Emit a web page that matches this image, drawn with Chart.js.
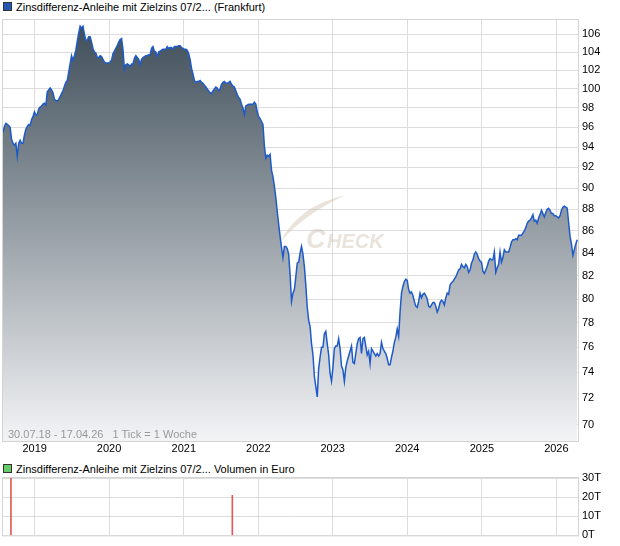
<!DOCTYPE html>
<html>
<head>
<meta charset="utf-8">
<script src="https://cdn.jsdelivr.net/npm/chart.js@4.4.1/dist/chart.umd.min.js"></script>
<style>
  body { margin: 0; width: 620px; height: 546px; background: #fff; position: relative; overflow: hidden;
         font-family: "Liberation Sans", Arial, sans-serif; }
  .box { position: absolute; left: 0; width: 620px; }
  .legend { position: absolute; left: 3px; font-size: 11px; line-height: 12px; color: #000; white-space: nowrap; }
  .legend i { display: inline-block; width: 7px; height: 7px; border: 1px solid #333; margin-right: 4px; }
  #footer { position: absolute; left: 8px; top: 428px; font-size: 11px; color: #999; white-space: pre; }
</style>
</head>
<body>
<div class="legend" style="top:1px"><i style="background:#2456b4"></i>Zinsdifferenz-Anleihe mit Zielzins 07/2... (Frankfurt)</div>
<div class="box" style="top:0;height:455px"><canvas id="main"></canvas></div>
<div id="footer">30.07.18 - 17.04.26   1 Tick = 1 Woche</div>
<div class="legend" style="top:463px"><i style="background:#6c6"></i>Zinsdifferenz-Anleihe mit Zielzins 07/2... Volumen in Euro</div>
<div class="box" style="top:455px;height:91px"><canvas id="vol"></canvas></div>
<script>
// weekly closing price, first week 30.07.18
const startDate = "2018-07-30";
const endDate = "2026-04-17";
const stepDays = 7;
const prices = [
  95.5, 96.1, 96.4, 96.3, 96.2, 96.0, 94.8, 94.4, 94.2, 94.4,
  93.1, 94.4, 94.7, 94.4, 94.4, 95.2, 95.8, 96.1, 96.3, 96.2,
  96.8, 97.1, 97.6, 97.3, 97.3, 97.9, 98.1, 98.2, 98.4, 98.5,
  98.3, 99.7, 99.9, 100.1, 99.9, 99.6, 98.9, 98.8, 98.7, 98.9,
  99.2, 99.5, 99.8, 100.3, 100.7, 100.9, 101.8, 102.7, 103.6, 103.1,
  103.6, 104.2, 105.2, 106.1, 106.9, 106.7, 106.9, 106.0, 105.3, 105.3,
  105.7, 105.7, 105.1, 104.4, 104.0, 103.9, 103.4, 103.4, 103.6, 103.5,
  103.2, 102.9, 102.8, 102.8, 102.8, 102.9, 103.1, 103.8, 104.1, 104.4,
  104.7, 105.1, 105.4, 105.5, 104.3, 102.1, 102.6, 102.7, 102.6, 102.4,
  102.7, 102.7, 103.3, 103.6, 103.4, 103.2, 102.6, 103.2, 103.4, 103.5,
  103.6, 103.6, 103.7, 103.7, 104.4, 104.6, 104.1, 104.0, 103.5, 104.0,
  104.1, 104.2, 104.3, 104.3, 104.3, 104.6, 104.4, 104.5, 104.5, 104.3,
  104.6, 104.6, 104.6, 104.7, 104.7, 104.5, 104.4, 104.3, 104.3, 104.2,
  103.8, 103.2, 102.2, 101.6, 100.9, 100.7, 100.8, 100.8, 100.9, 100.7,
  100.6, 100.4, 100.2, 100.0, 99.8, 99.6, 99.5, 99.8, 100.0, 100.2,
  100.1, 99.8, 100.0, 100.5, 100.7, 100.8, 100.6, 100.6, 100.7, 100.8,
  100.5, 100.3, 100.2, 99.8, 99.4, 99.1, 98.9, 98.4, 98.0, 97.3,
  98.2, 98.3, 98.4, 98.4, 98.4, 98.4, 98.6, 98.4, 97.6, 97.1,
  96.9, 96.6, 96.3, 94.1, 92.9, 93.2, 93.1, 93.3, 91.7, 91.1,
  90.2, 89.1, 87.8, 86.6, 85.5, 84.5, 83.6, 84.6, 84.6, 84.4,
  83.9, 82.1, 79.8, 80.5, 80.8, 81.9, 83.1, 83.2, 84.0, 84.6,
  83.9, 82.8, 81.2, 79.3, 78.2, 77.7, 76.3, 75.4, 73.7, 72.9,
  72.1, 74.3, 75.2, 76.0, 76.0, 77.1, 77.3, 76.3, 75.4, 73.9,
  73.3, 74.4, 75.9, 76.1, 76.1, 76.7, 75.9, 74.5, 74.2, 73.3,
  74.4, 74.9, 75.3, 75.7, 76.1, 74.8, 74.7, 75.5, 76.3, 76.7,
  76.8, 75.5, 76.7, 76.8, 76.1, 75.4, 75.7, 74.7, 75.9, 75.7,
  75.5, 75.3, 75.5, 75.3, 75.5, 76.4, 75.9, 75.7, 75.5, 75.1,
  74.6, 74.6, 75.2, 75.7, 76.4, 76.8, 77.5, 76.9, 78.9, 80.5,
  81.1, 81.5, 81.7, 81.6, 80.8, 80.5, 80.6, 80.3, 79.8, 79.4,
  79.3, 79.8, 80.5, 80.1, 80.4, 80.5, 80.3, 80.0, 79.4, 79.3,
  79.5, 79.7, 79.7, 79.4, 78.9, 79.2, 79.7, 79.9, 79.8, 79.5,
  80.1, 80.5, 80.4, 81.2, 81.4, 81.5, 81.7, 81.9, 82.2, 82.5,
  82.6, 83.0, 82.8, 82.7, 83.0, 82.8, 82.3, 82.5, 83.1, 83.4,
  83.9, 84.1, 83.9, 83.5, 83.3, 83.2, 82.4, 82.2, 82.5, 82.8,
  83.3, 83.5, 83.4, 83.4, 84.1, 82.3, 82.7, 83.0, 84.1, 83.2,
  83.6, 84.3, 84.1, 84.1, 84.1, 84.5, 85.0, 85.2, 85.2, 85.3,
  85.2, 85.6, 85.6, 85.6, 85.8, 86.0, 86.3, 86.7, 86.9, 87.0,
  87.2, 87.5, 86.9, 87.0, 86.7, 87.2, 87.5, 87.9, 87.6, 87.3,
  87.7, 88.0, 88.1, 87.9, 87.6, 87.6, 87.4, 87.4, 87.3, 87.2,
  87.4, 87.9, 88.2, 88.3, 88.2, 88.1, 86.8, 85.5, 84.8, 83.8,
  84.3, 84.8, 85.2
];
const volumeDates = ["2018-09-07", "2021-08-27"];
const volumeValues = [32000, 21000];

const yearLabels = ["2019", "2020", "2021", "2022", "2023", "2024", "2025", "2026"];
const priceTicks = [70, 72, 74, 76, 78, 80, 82, 84, 86, 88, 90, 92, 94, 96, 98, 100, 102, 104, 106];
const volumeTicks = [0, 10000, 20000, 30000];

const DAY = 86400000;
const t0 = Date.parse(startDate);
const dayOf = (s) => (Date.parse(s) - t0) / DAY;
const xMax = dayOf(endDate);
const yearTicks = yearLabels.map((y) => dayOf(y + "-01-01"));

const gridColor = "#dddddd";
const tickFont = { family: "'Liberation Sans', Arial, sans-serif", size: 11 };

const frame = {
  id: "frame",
  afterDatasetsDraw(chart) {
    const { ctx, chartArea: a } = chart;
    ctx.save();
    ctx.strokeStyle = "#d4d4d4";
    ctx.lineWidth = 1;
    ctx.strokeRect(a.left - 0.5, a.top - 0.5, a.right - a.left + 1, a.bottom - a.top + 1);
    ctx.restore();
  },
};

const watermark = {
  id: "watermark",
  afterDatasetsDraw(chart) {
    const ctx = chart.ctx;
    ctx.save();
    ctx.fillStyle = "rgba(200,185,165,0.4)";
    ctx.beginPath();
    ctx.moveTo(281, 241);
    ctx.quadraticCurveTo(298, 206, 346, 195);
    ctx.quadraticCurveTo(306, 213, 281, 241);
    ctx.fill();
    ctx.font = "italic bold 27px 'Liberation Sans', Arial, sans-serif";
    ctx.fillText("C", 306, 248);
    ctx.font = "italic bold 20px 'Liberation Sans', Arial, sans-serif";
    ctx.fillText("HECK", 327, 248);
    ctx.restore();
  },
};

function yearAxis(showLabels) {
  return {
    type: "linear",
    min: 0,
    max: xMax,
    offset: false,
    afterBuildTicks: (s) => { s.ticks = yearTicks.map((v) => ({ value: v })); },
    afterFit: (s) => { s.height = showLabels ? 14 : 0; },
    ticks: {
      display: showLabels,
      autoSkip: false,
      maxRotation: 0,
      padding: 1,
      color: "#000",
      font: tickFont,
      callback: (v, i) => yearLabels[i],
    },
    grid: { color: gridColor, drawTicks: false, offset: false },
    border: { display: false },
  };
}

new Chart(document.getElementById("main"), {
  type: "line",
  data: {
    datasets: [{
      data: prices.map((v, i) => ({ x: i * stepDays, y: v })),
      borderColor: "#1f5bc8",
      borderWidth: 1.5,
      pointRadius: 0,
      tension: 0,
      fill: "start",
      backgroundColor: (c) => {
        const a = c.chart.chartArea;
        if (!a) return "#8a969e";
        const g = c.chart.ctx.createLinearGradient(0, a.top, 0, a.bottom);
        g.addColorStop(0, "#3d4c58");
        g.addColorStop(1, "#f3f4f6");
        return g;
      },
    }],
  },
  options: {
    responsive: true,
    maintainAspectRatio: false,
    animation: false,
    layout: { padding: { left: 3, top: 20, right: 0, bottom: 0 } },
    plugins: { legend: { display: false }, tooltip: { enabled: false } },
    scales: {
      x: yearAxis(true),
      y: {
        type: "logarithmic",
        position: "right",
        min: 68.8,
        max: 107.6,
        afterBuildTicks: (s) => { s.ticks = priceTicks.map((v) => ({ value: v })); },
        afterFit: (s) => { s.width = 42; },
        ticks: { color: "#000", font: tickFont, padding: 4, autoSkip: false, callback: (v) => String(v) },
        grid: { color: gridColor, drawTicks: false },
        border: { display: false },
      },
    },
  },
  plugins: [frame, watermark],
});

new Chart(document.getElementById("vol"), {
  type: "bar",
  data: {
    datasets: [{
      data: volumeDates.map((d, i) => ({ x: dayOf(d), y: volumeValues[i] })),
      backgroundColor: "#e05a5a",
      barThickness: 1,
    }],
  },
  options: {
    responsive: true,
    maintainAspectRatio: false,
    animation: false,
    layout: { padding: { left: 3, top: 23, right: 0, bottom: 9 } },
    plugins: { legend: { display: false }, tooltip: { enabled: false } },
    scales: {
      x: yearAxis(false),
      y: {
        position: "right",
        min: 0,
        max: 30000,
        afterBuildTicks: (s) => { s.ticks = volumeTicks.map((v) => ({ value: v })); },
        afterFit: (s) => { s.width = 42; },
        ticks: { color: "#000", font: tickFont, padding: 4, callback: (v) => v / 1000 + "T" },
        grid: { color: gridColor, drawTicks: false },
        border: { display: false },
      },
    },
  },
  plugins: [frame],
});
</script>
</body>
</html>
